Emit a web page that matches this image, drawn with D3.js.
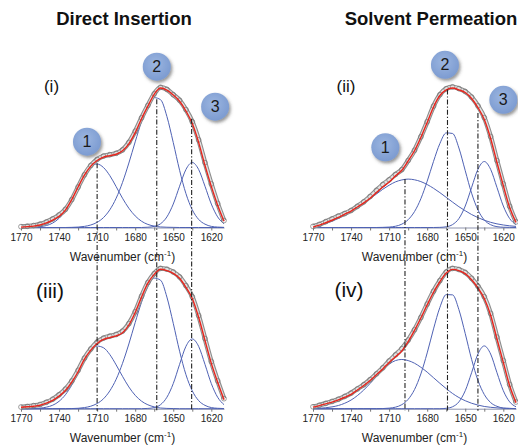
<!DOCTYPE html>
<html>
<head>
<meta charset="utf-8">
<script src="https://cdn.jsdelivr.net/npm/d3@7"></script>
<style>
  html, body { margin: 0; padding: 0; background: #fff; }
  svg { display: block; font-family: "Liberation Sans", Arial, Helvetica, sans-serif; }
</style>
</head>
<body>
<svg id="chart" width="518" height="445"></svg>
<script>
// wavenumber grid (cm-1) the spectra were read at
const wavenumber = [1770, 1765, 1760, 1755, 1750, 1745, 1740, 1735, 1730, 1725, 1720,
  1715, 1710, 1705, 1700, 1695, 1690, 1685, 1680, 1675, 1670, 1665, 1660, 1655, 1650,
  1645, 1640, 1635, 1630, 1625, 1620, 1615, 1610]

const tickValues = [1770, 1755, 1740, 1725, 1710, 1695, 1680, 1665, 1650, 1635, 1620]
const tickLabels = [1770, 1740, 1710, 1680, 1650, 1620]

// (i) direct insertion
const obsI = [0.006, 0.009, 0.014, 0.024, 0.040, 0.062, 0.090, 0.130, 0.200, 0.290, 0.378,
  0.445, 0.488, 0.512, 0.522, 0.532, 0.556, 0.610, 0.690, 0.786, 0.875, 0.958, 1.005, 0.990,
  0.952, 0.912, 0.845, 0.758, 0.628, 0.465, 0.312, 0.172, 0.050]
const fitI = [0.003, 0.006, 0.010, 0.018, 0.033, 0.053, 0.080, 0.125, 0.200, 0.290, 0.375,
  0.440, 0.480, 0.505, 0.515, 0.525, 0.550, 0.600, 0.680, 0.780, 0.870, 0.955, 1.000, 0.985,
  0.950, 0.905, 0.835, 0.745, 0.610, 0.445, 0.295, 0.160, 0.045]
const band1I = [0, 0.001, 0.002, 0.006, 0.014, 0.032, 0.066, 0.120, 0.195, 0.285, 0.372,
  0.435, 0.455, 0.430, 0.372, 0.293, 0.210, 0.138, 0.083, 0.045, 0.022, 0.010, 0.004, 0.002,
  0.001, 0, 0, 0, 0, 0, 0, 0, 0]
const band2I = [0, 0, 0, 0, 0, 0, 0, 0, 0.001, 0.003, 0.008,
  0.018, 0.037, 0.071, 0.127, 0.210, 0.323, 0.462, 0.614, 0.759, 0.872, 0.931, 0.916, 0.796,
  0.609, 0.410, 0.243, 0.127, 0.058, 0.024, 0.008, 0.003, 0.001]
const band3I = [0, 0, 0, 0, 0, 0, 0, 0, 0, 0, 0,
  0, 0, 0, 0, 0, 0, 0, 0, 0, 0.002, 0.008, 0.027, 0.076,
  0.168, 0.296, 0.416, 0.466, 0.416, 0.296, 0.168, 0.076, 0.027]

// (ii) solvent permeation
const obsII = [0.008, 0.022, 0.042, 0.062, 0.082, 0.100, 0.122, 0.152, 0.184, 0.222, 0.266,
  0.308, 0.342, 0.380, 0.415, 0.480, 0.553, 0.650, 0.758, 0.870, 0.952, 0.995, 1.008, 0.996,
  0.975, 0.935, 0.872, 0.788, 0.652, 0.480, 0.312, 0.152, 0.040]
const fitII = [0.003, 0.017, 0.034, 0.052, 0.072, 0.095, 0.118, 0.147, 0.176, 0.210, 0.250,
  0.290, 0.326, 0.370, 0.410, 0.477, 0.550, 0.645, 0.753, 0.864, 0.946, 0.986, 1.000, 0.986,
  0.968, 0.925, 0.860, 0.774, 0.638, 0.466, 0.300, 0.143, 0.036]
const band1II = [0.008, 0.015, 0.028, 0.045, 0.065, 0.088, 0.114, 0.144, 0.174, 0.207, 0.240,
  0.274, 0.303, 0.327, 0.341, 0.347, 0.342, 0.329, 0.308, 0.281, 0.250, 0.216, 0.182, 0.149,
  0.120, 0.093, 0.071, 0.052, 0.037, 0.026, 0.018, 0.012, 0.008]
const band2II = [0, 0, 0, 0, 0, 0, 0, 0, 0, 0, 0,
  0.001, 0.003, 0.009, 0.024, 0.056, 0.114, 0.206, 0.332, 0.474, 0.602, 0.678, 0.674, 0.570,
  0.407, 0.246, 0.126, 0.054, 0.020, 0.006, 0.002, 0.001, 0]
const band3II = [0, 0, 0, 0, 0, 0, 0, 0, 0, 0, 0,
  0, 0, 0, 0, 0, 0, 0, 0, 0, 0.001, 0.005, 0.021, 0.064,
  0.154, 0.287, 0.417, 0.473, 0.417, 0.287, 0.154, 0.064, 0.021]

// (iii) direct insertion
const obsIII = [0.012, 0.016, 0.022, 0.030, 0.046, 0.068, 0.100, 0.140, 0.198, 0.275, 0.362,
  0.428, 0.478, 0.506, 0.520, 0.532, 0.556, 0.610, 0.695, 0.806, 0.905, 0.968, 1.006, 1.000,
  0.980, 0.945, 0.882, 0.803, 0.668, 0.503, 0.338, 0.200, 0.072]
const fitIII = [0.010, 0.014, 0.018, 0.025, 0.040, 0.060, 0.090, 0.130, 0.190, 0.265, 0.355,
  0.420, 0.468, 0.497, 0.510, 0.522, 0.545, 0.600, 0.690, 0.800, 0.900, 0.963, 1.000, 0.990,
  0.970, 0.935, 0.870, 0.790, 0.655, 0.490, 0.325, 0.190, 0.065]
const band1III = [0, 0, 0.001, 0.004, 0.011, 0.025, 0.053, 0.100, 0.169, 0.255, 0.344,
  0.415, 0.449, 0.437, 0.388, 0.314, 0.232, 0.156, 0.096, 0.054, 0.028, 0.013, 0.005, 0.002,
  0.001, 0, 0, 0, 0, 0, 0, 0, 0]
const band2III = [0, 0, 0, 0, 0, 0, 0, 0, 0.001, 0.003, 0.008,
  0.018, 0.037, 0.071, 0.128, 0.211, 0.325, 0.464, 0.618, 0.763, 0.877, 0.936, 0.921, 0.800,
  0.612, 0.412, 0.244, 0.128, 0.058, 0.024, 0.008, 0.003, 0.001]
const band3III = [0, 0, 0, 0, 0, 0, 0, 0, 0, 0, 0,
  0, 0, 0, 0, 0, 0, 0, 0, 0, 0.002, 0.008, 0.029, 0.082,
  0.180, 0.318, 0.447, 0.500, 0.447, 0.318, 0.180, 0.082, 0.029]

// (iv) solvent permeation
const obsIV = [0.014, 0.025, 0.038, 0.052, 0.068, 0.088, 0.112, 0.142, 0.172, 0.208, 0.250,
  0.293, 0.342, 0.386, 0.430, 0.492, 0.566, 0.654, 0.750, 0.842, 0.918, 0.980, 1.006, 0.998,
  0.977, 0.935, 0.878, 0.803, 0.683, 0.513, 0.345, 0.174, 0.048]
const fitIV = [0.011, 0.022, 0.035, 0.047, 0.063, 0.082, 0.103, 0.134, 0.166, 0.202, 0.243,
  0.285, 0.332, 0.372, 0.414, 0.480, 0.561, 0.650, 0.744, 0.835, 0.910, 0.972, 0.999, 0.990,
  0.968, 0.924, 0.866, 0.790, 0.670, 0.500, 0.332, 0.164, 0.043]
const band1IV = [0.002, 0.003, 0.007, 0.013, 0.023, 0.039, 0.062, 0.094, 0.134, 0.181, 0.231,
  0.279, 0.319, 0.345, 0.353, 0.345, 0.326, 0.297, 0.262, 0.222, 0.182, 0.144, 0.109, 0.080,
  0.057, 0.039, 0.026, 0.016, 0.010, 0.006, 0.003, 0.002, 0.001]
const band2IV = [0, 0, 0, 0, 0, 0, 0, 0, 0, 0, 0,
  0.001, 0.004, 0.011, 0.029, 0.067, 0.137, 0.249, 0.400, 0.572, 0.726, 0.818, 0.816, 0.710,
  0.538, 0.354, 0.203, 0.102, 0.044, 0.017, 0.005, 0.002, 0]
const band3IV = [0, 0, 0, 0, 0, 0, 0, 0, 0, 0, 0,
  0, 0, 0, 0, 0, 0, 0, 0, 0, 0, 0.003, 0.014, 0.049,
  0.129, 0.258, 0.392, 0.450, 0.392, 0.258, 0.129, 0.049, 0.014]

// band positions marked with dash-dot lines, and where each line starts (intensity, top panel)
const markersDirect = [1710, 1663, 1635.5]
const markerTopDirect = [0.46, 0.92, 0.78]
const markersSolvent = [1697.5, 1664, 1640]
const markerTopSolvent = [0.347, 0.99, 0.82]

// numbered callouts on the top panels
const calloutText = ['1', '2', '3']
const calloutWnDirect = [1718, 1663, 1617]
const calloutValDirect = [0.615, 1.153, 0.866]
const calloutWnSolvent = [1713, 1666, 1620]
const calloutValSolvent = [0.575, 1.166, 0.915]

const columnTitles = ['Direct Insertion', 'Solvent Permeation']

// layout
const columns = [[21, 224], [313, 516]]
const baselines = [227.5, 408.7]
const fullHeight = 139.5

const panels = [
  {label: '(i)', col: 0, row: 0, obs: obsI, fit: fitI, bands: [band1I, band2I, band3I], lx: 51.5, ly: 86, fs: 17},
  {label: '(ii)', col: 1, row: 0, obs: obsII, fit: fitII, bands: [band1II, band2II, band3II], lx: 346, ly: 86, fs: 17},
  {label: '(iii)', col: 0, row: 1, obs: obsIII, fit: fitIII, bands: [band1III, band2III, band3III], lx: 50, ly: 290, fs: 21},
  {label: '(iv)', col: 1, row: 1, obs: obsIV, fit: fitIV, bands: [band1IV, band2IV, band3IV], lx: 349, ly: 289.5, fs: 21}
]

const svg = d3.select('#chart')
const defs = svg.append('defs')

const shadow = defs.append('filter').attr('id', 'shadow')
  .attr('x', '-40%').attr('y', '-40%').attr('width', '190%').attr('height', '190%')
shadow.append('feDropShadow')
  .attr('dx', 1.6).attr('dy', 2.2).attr('stdDeviation', 1.6)
  .attr('flood-color', '#444').attr('flood-opacity', 0.55)

const grad = defs.append('radialGradient').attr('id', 'ball')
  .attr('cx', '45%').attr('cy', '40%').attr('r', '60%')
grad.append('stop').attr('offset', '0%').attr('stop-color', '#9cb6e0')
grad.append('stop').attr('offset', '100%').attr('stop-color', '#7c9bd1')

const xScales = columns.map(r => d3.scaleLinear().domain([1770, 1610]).range(r))
const yScales = baselines.map(b => d3.scaleLinear().domain([0, 1]).range([b, b - fullHeight]))

panels.forEach(p => {
  const x = xScales[p.col]
  const y = yScales[p.row]
  const g = svg.append('g')

  const axis = d3.axisBottom(x)
    .tickValues(tickValues)
    .tickSize(3)
    .tickSizeOuter(0)
    .tickPadding(3)
    .tickFormat(d => tickLabels.includes(d) ? d : '')
  const ax = g.append('g')
    .attr('transform', `translate(0,${baselines[p.row]})`)
    .call(axis)
  ax.select('.domain').attr('stroke', '#8d93ad')
  ax.selectAll('.tick line').attr('stroke', '#777')
  ax.selectAll('.tick text')
    .attr('fill', '#222')
    .style('font-size', '10px')
    .style('font-family', '"Liberation Sans", Arial, sans-serif')

  const mid = (columns[p.col][0] + columns[p.col][1]) / 2
  const title = g.append('text')
    .attr('x', mid)
    .attr('y', baselines[p.row] + 33.5)
    .attr('text-anchor', 'middle')
    .attr('fill', '#222')
    .style('font-size', '12px')
  title.append('tspan').text('Wavenumber (cm')
  title.append('tspan').text('-1').attr('dy', -5).style('font-size', '8px')
  title.append('tspan').text(')').attr('dy', 5)

  const line = d3.line()
    .x((d, i) => x(wavenumber[i]))
    .y(d => y(d))
    .curve(d3.curveMonotoneX)

  p.bands.forEach(b => {
    g.append('path').datum(b)
      .attr('d', line)
      .attr('fill', 'none')
      .attr('stroke', '#4f62b4')
      .attr('stroke-width', 1)
  })

  // measured spectrum: dense open circles
  g.append('path').datum(p.obs)
    .attr('d', line)
    .attr('fill', 'none')
    .attr('stroke', '#8c8c8c')
    .attr('stroke-width', 4.8)
    .attr('stroke-linejoin', 'round')
  g.append('path').datum(p.obs)
    .attr('d', line)
    .attr('fill', 'none')
    .attr('stroke', '#e2e2e2')
    .attr('stroke-width', 2.6)
  g.selectAll('circle.obs').data(p.obs).join('circle')
    .attr('class', 'obs')
    .attr('cx', (d, i) => x(wavenumber[i]))
    .attr('cy', d => y(d))
    .attr('r', 2.4)
    .attr('fill', 'none')
    .attr('stroke', '#777')
    .attr('stroke-width', 0.7)

  g.append('path').datum(p.fit)
    .attr('d', line)
    .attr('fill', 'none')
    .attr('stroke', '#e8241c')
    .attr('stroke-width', 1.4)

  g.append('text')
    .attr('x', p.lx)
    .attr('y', p.ly)
    .attr('text-anchor', 'middle')
    .attr('dominant-baseline', 'central')
    .attr('fill', '#111')
    .style('font-size', p.fs + 'px')
    .text(p.label)
})

// column headings
columnTitles.forEach((t, i) => {
  svg.append('text')
    .attr('x', i === 0 ? 124 : 431)
    .attr('y', 25)
    .attr('text-anchor', 'middle')
    .attr('fill', '#111')
    .style('font-size', '18.5px')
    .style('font-weight', 'bold')
    .text(t)
})

// dash-dot band markers spanning top and bottom panels
const drawMarkers = (col, wns, tops) => {
  const x = xScales[col]
  svg.selectAll(null).data(wns).join('line')
    .attr('x1', d => x(d))
    .attr('x2', d => x(d))
    .attr('y1', (d, i) => yScales[0](tops[i]))
    .attr('y2', baselines[1] + 2)
    .attr('stroke', '#222')
    .attr('stroke-width', 1.1)
    .attr('stroke-dasharray', '5,2,1.2,2')
}
drawMarkers(0, markersDirect, markerTopDirect)
drawMarkers(1, markersSolvent, markerTopSolvent)

// numbered callouts
const drawCallouts = (col, wns, vals) => {
  const x = xScales[col]
  const y = yScales[0]
  const c = svg.selectAll(null).data(wns).join('g')
    .attr('transform', (d, i) => `translate(${x(d)},${y(vals[i])})`)
  c.append('circle')
    .attr('r', 14)
    .attr('fill', 'url(#ball)')
    .attr('filter', 'url(#shadow)')
  c.append('text')
    .attr('text-anchor', 'middle')
    .attr('dominant-baseline', 'central')
    .attr('fill', '#1a1a1a')
    .style('font-size', '16px')
    .text((d, i) => calloutText[i])
}
drawCallouts(0, calloutWnDirect, calloutValDirect)
drawCallouts(1, calloutWnSolvent, calloutValSolvent)
</script>
</body>
</html>
